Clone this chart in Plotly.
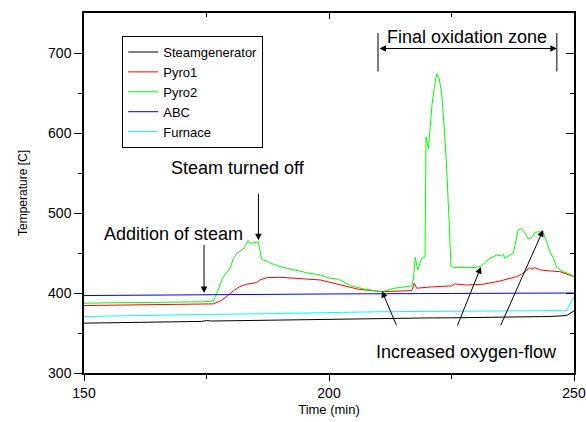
import plotly.graph_objects as go

# Temperature logs (time in min, temperature in C)
steam_t = [150, 155, 160, 165, 170, 174, 175, 176, 180, 185, 190, 195, 200, 205, 210,
           215, 220, 225, 230, 235, 240, 245, 248.5, 250]
steam_T = [362.3, 362.8, 363, 363.5, 364, 364.5, 365.5, 365, 365.3, 365.8, 366.5, 367,
           367.7, 368, 368.2, 368.5, 368.8, 369, 369.3, 369.6, 370, 370.6, 371.8, 377.7]

pyro1_t = [150, 160, 170, 174, 176.4, 177.8, 179.1, 180.5, 181.8, 183.2, 185.2, 185.9,
           187.3, 190, 194.1, 198.2, 200.2, 202.6, 206, 210.8, 213.5, 216.9, 217.4, 217.9,
           220.9, 225, 225.6, 228.1, 231.5, 234.9, 238.3, 239.3, 241, 241.4, 242, 243.1,
           245.1, 247.1, 250]
pyro1_T = [384.3, 385, 385.5, 386, 386.4, 390, 395.5, 402.6, 408, 411, 413, 416.3,
           419.2, 419.7, 418.4, 416.3, 413.4, 410, 404.7, 401.7, 402, 403, 412.2, 406,
           407.6, 408.9, 411.3, 410, 411, 415, 420.5, 423.4, 431.7, 429.7, 431.7, 428.8,
           427.6, 426.7, 420.5]

pyro2_t = [150, 160, 170, 174, 176.4, 177.1, 178.1, 178.7, 179.8, 180.5, 181.2, 181.8,
           182.5, 182.9, 183.5, 183.9, 184.6, 185.6, 186.2, 186.6, 187.3, 188.6, 190,
           192.7, 195.4, 198.2, 200.2, 201.9, 204.6, 207.3, 210.8, 213.5, 216.9, 217.2,
           217.6, 218.1, 218.9, 219.6, 219.8, 220.3, 221, 221.6, 222, 222.5, 223, 223.5,
           224, 224.5, 224.9, 225.4, 228, 230.1, 231.1, 232.9, 234.2, 235.2, 235.6, 235.9,
           236.6, 237.6, 238.6, 239.3, 240, 240.7, 241.4, 242, 243.1, 243.7, 244.4, 245.1,
           245.8, 246.5, 247.8, 249.2, 250]
pyro2_T = [387.3, 388, 388.5, 389, 390, 399.7, 416, 422.6, 431, 443.4, 449.6, 452.5,
           455, 459, 465.8, 462, 462.8, 464, 443.4, 441, 440, 436, 433,
           428.8, 425.4, 422.6, 418.4, 417.2, 408.9, 404.7, 401.7, 406, 408.9, 416.3,
           444.6, 428.8, 443.4, 445.4, 595, 580.5, 634.5, 661.6, 674, 667.8, 649, 607.5,
           557.6, 491, 433, 432, 431.7, 431.7, 434.2, 443.4, 447.5, 446.3, 448.4, 443.4,
           446.3, 449.6, 478.7, 480.8, 474.6, 467.5, 469.6, 475.8, 476.6, 475.8, 464, 451.6,
           443.4, 431.7, 426.7, 423.4, 420.5]

abc_t = [150, 175, 200, 225, 250]
abc_T = [396.8, 398, 398.8, 399.4, 400]

furnace_t = [150, 160, 170, 175, 180, 190, 200, 210, 220, 230, 240, 248.5, 250]
furnace_T = [370.6, 372, 373, 373.3, 373.5, 374.5, 376, 376.5, 377, 377.5, 378, 378, 395.5]

series = [
    ("Steamgenerator", steam_t, steam_T, "#000000"),
    ("Pyro1", pyro1_t, pyro1_T, "#FF0000"),
    ("Pyro2", pyro2_t, pyro2_T, "#00FF00"),
    ("ABC", abc_t, abc_T, "#0000FF"),
    ("Furnace", furnace_t, furnace_T, "#00FFFF"),
]

FONT = "Liberation Sans, Arial, sans-serif"

fig = go.Figure()
for name, t, T, col in series:
    fig.add_trace(go.Scatter(x=t, y=T, name=name, mode="lines",
                             line=dict(color=col, width=1)))

# empty trace so the mirrored (top/right) axes get drawn with inward ticks
fig.add_trace(go.Scatter(x=[], y=[], xaxis="x2", yaxis="y2", showlegend=False,
                         hoverinfo="skip"))

x_range = [150, 250]
y_range = [300, 750]

fig.update_layout(
    template="none",
    width=586, height=422,
    margin=dict(l=84, r=12, t=13, b=49, autoexpand=False),
    paper_bgcolor="white", plot_bgcolor="white",
    font=dict(family=FONT, color="black"),
    showlegend=True,
    legend=dict(x=0.078, y=0.936, xanchor="left", yanchor="top",
                bgcolor="white", bordercolor="black", borderwidth=1,
                font=dict(size=13, family=FONT), tracegroupgap=0),
    xaxis=dict(range=x_range, tickvals=[150, 200, 250], ticks="outside", ticklen=6,
               tickwidth=1, tickcolor="black", showline=True, linecolor="black",
               linewidth=1.5, showgrid=False, zeroline=False, automargin=False,
               tickfont=dict(size=14),
               minor=dict(tickvals=[175, 225], ticks="outside", ticklen=4,
                          tickcolor="black", showgrid=False),
               title=dict(text="Time (min)", font=dict(size=13), standoff=5)),
    yaxis=dict(range=y_range, tickvals=[300, 400, 500, 600, 700], ticks="outside",
               ticklen=8, tickwidth=1, tickcolor="black", showline=True,
               linecolor="black", linewidth=1.5, showgrid=False, zeroline=False,
               automargin=False, tickfont=dict(size=14),
               minor=dict(tickvals=[350, 450, 550, 650], ticks="outside", ticklen=4,
                          tickcolor="black", showgrid=False),
               title=dict(text="Temperature [C]", font=dict(size=12), standoff=18)),
    xaxis2=dict(range=x_range, overlaying="x", side="top", tickvals=[150, 200, 250],
                ticks="inside", ticklen=6, tickcolor="black", showticklabels=False,
                showline=True, linecolor="black", linewidth=1.5, showgrid=False,
                zeroline=False, automargin=False,
                minor=dict(tickvals=[175, 225], ticks="inside", ticklen=4,
                           tickcolor="black", showgrid=False)),
    yaxis2=dict(range=y_range, overlaying="y", side="right",
                tickvals=[300, 400, 500, 600, 700], ticks="inside", ticklen=8,
                tickcolor="black", showticklabels=False, showline=True,
                linecolor="black", linewidth=1.5, showgrid=False, zeroline=False,
                automargin=False,
                minor=dict(tickvals=[350, 450, 550, 650], ticks="inside", ticklen=4,
                           tickcolor="black", showgrid=False)),
)

TXT = dict(size=18, family=FONT, color="black")

# text labels
labels = [
    ("Addition of steam", 168.2, 473.7),
    ("Steam turned off", 181.4, 556),
    ("Final oxidation zone", 228.1, 720.6),
    ("Increased oxygen-flow", 228.1, 326.6),
]
for text, lx, ly in labels:
    fig.add_annotation(x=lx, y=ly, xref="x", yref="y", text=text, showarrow=False,
                       font=TXT)

# pointer arrows: (tip x, tip y, tail x, tail y)
arrows = [
    (174.5, 400, 174.5, 462),
    (185.6, 466, 185.6, 526),
    (210.8, 402.6, 213.9, 357.7),
    (231.0, 432.5, 226.1, 357.7),
    (243.7, 478.7, 234.9, 357.7),
]
for tx, ty, sx, sy in arrows:
    fig.add_annotation(x=tx, y=ty, ax=sx, ay=sy, xref="x", yref="y", axref="x",
                       ayref="y", text="", showarrow=True, arrowhead=2, arrowsize=1.3,
                       arrowwidth=1, arrowcolor="black")

# span of the final oxidation zone
zone_start, zone_end = 210, 246.5
fig.add_annotation(x=zone_end, y=705.6, ax=zone_start, ay=705.6, xref="x", yref="y",
                   axref="x", ayref="y", text="", showarrow=True, arrowhead=2,
                   startarrowhead=2, arrowside="end+start", arrowsize=1.3,
                   arrowwidth=1, arrowcolor="black")
for zx in (zone_start, zone_end):
    fig.add_shape(type="line", x0=zx, x1=zx, y0=677, y1=725, xref="x", yref="y",
                  line=dict(color="black", width=1))

fig.write_html("out.html")
